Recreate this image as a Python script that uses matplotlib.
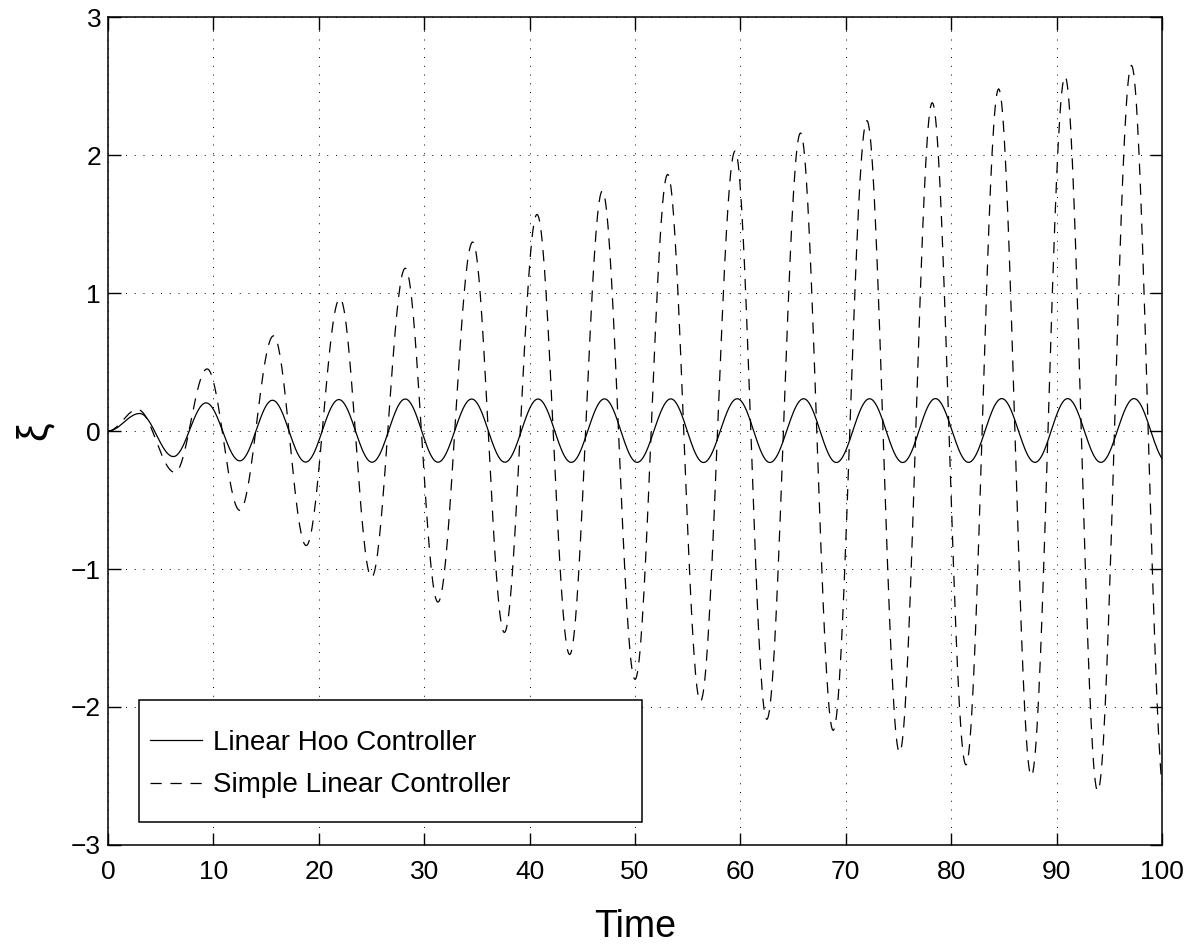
import numpy as np
import matplotlib
matplotlib.use("Agg")
import matplotlib.pyplot as plt
from matplotlib.patches import Rectangle

# ---- data (extrema of each curve) ----
# Linear Hoo Controller (solid)
hoo_t = [0.0, 3.0, 6.2, 9.3, 12.5, 15.6, 18.75, 21.9, 25.05, 28.2, 31.3, 34.5, 37.65,
         40.8, 43.95, 47.1, 50.2, 53.4, 56.5, 59.7, 62.8, 66.0, 69.1, 72.25, 75.4,
         78.5, 81.65, 84.8, 87.95, 91.05, 94.2, 97.35, 100.5]
hoo_v = [0.0, 0.127, -0.185, 0.204, -0.216, 0.223, -0.225, 0.228, -0.226, 0.232,
         -0.226, 0.232, -0.226, 0.232, -0.227, 0.233, -0.227, 0.233, -0.228, 0.234,
         -0.228, 0.234, -0.228, 0.234, -0.228, 0.235, -0.227, 0.235, -0.227, 0.235,
         -0.227, 0.235, -0.227]

# Simple Linear Controller (dashed)
simple_t = [0.0, 2.8, 6.35, 9.4, 12.5, 15.7, 18.8, 22.0, 25.0, 28.2, 31.3, 34.6,
            37.6, 40.7, 43.8, 46.9, 50.0, 53.1, 56.2, 59.5, 62.5, 65.7, 68.8, 72.0,
            75.1, 78.2, 81.4, 84.5, 87.6, 90.8, 93.9, 97.1, 100.3]
simple_v = [0.0, 0.156, -0.30, 0.45, -0.575, 0.69, -0.83, 0.96, -1.06, 1.18, -1.24,
            1.37, -1.46, 1.57, -1.62, 1.74, -1.80, 1.86, -1.96, 2.03, -2.09, 2.16,
            -2.17, 2.25, -2.33, 2.38, -2.42, 2.48, -2.50, 2.57, -2.61, 2.65, -2.68]

labels = ["Linear Hoo Controller", "Simple Linear Controller"]
x_ticks = [0, 10, 20, 30, 40, 50, 60, 70, 80, 90, 100]
y_ticks = [-3, -2, -1, 0, 1, 2, 3]
y_tick_labels = ["\u22123", "\u22122", "\u22121", "0", "1", "2", "3"]


def smooth_through_extrema(tk, vk, t_end=100.0, n=40):
    """Half-cosine segments between successive extrema (zero slope at each)."""
    ts, vs = [], []
    for i in range(len(tk) - 1):
        t0, t1 = tk[i], tk[i + 1]
        v0, v1 = vk[i], vk[i + 1]
        s = np.linspace(0, 1, n, endpoint=False)
        ts.append(t0 + (t1 - t0) * s)
        vs.append(v0 + (v1 - v0) * (1 - np.cos(np.pi * s)) / 2)
    ts = np.concatenate(ts)
    vs = np.concatenate(vs)
    m = ts <= t_end
    return np.append(ts[m], t_end), np.append(vs[m], np.interp(t_end, ts, vs))


plt.rcParams['font.family'] = ['Liberation Sans', 'DejaVu Sans']

fig = plt.figure(figsize=(12.02, 9.44), dpi=100)
ax = fig.add_axes([0.0899, 0.1049, 0.8768, 0.877])

th, vh = smooth_through_extrema(hoo_t, hoo_v)
tsim, vsim = smooth_through_extrema(simple_t, simple_v)

ax.plot(th, vh, color='black', lw=0.9, label=labels[0])
ax.plot(tsim, vsim, color='black', lw=0.9, dashes=(9, 7), label=labels[1])

ax.set_xlim(0, 100)
ax.set_ylim(-3, 3)
ax.set_xticks(x_ticks)
ax.set_yticks(y_ticks)
ax.set_yticklabels(y_tick_labels)
ax.tick_params(direction='in', length=9, width=1, labelsize=19,
               top=True, right=True)
ax.tick_params(axis='x', pad=11)
ax.tick_params(axis='y', pad=5)
ax.grid(True, color='black', linestyle=(0, (1, 8)), linewidth=0.7)
for sp in ax.spines.values():
    sp.set_linewidth(1.1)

ax.set_xlabel("Time", fontsize=27, labelpad=18)
ax.set_ylabel("\u03be", fontsize=30, labelpad=12)

# legend box (drawn as a plain rectangle) and frameless legend entries
box = Rectangle((0.0294, 0.0278), 0.4772, 0.1472, transform=ax.transAxes,
                facecolor='white', edgecolor='black', lw=1.1, zorder=4)
ax.add_patch(box)
leg = ax.legend(loc='center left', bbox_to_anchor=(0.0398, 0.0978),
                borderaxespad=0, borderpad=0, fontsize=20, frameon=False,
                handlelength=1.87, handletextpad=0.4, labelspacing=0.6)
leg.set_zorder(5)

fig.savefig("out.png", dpi=100)
